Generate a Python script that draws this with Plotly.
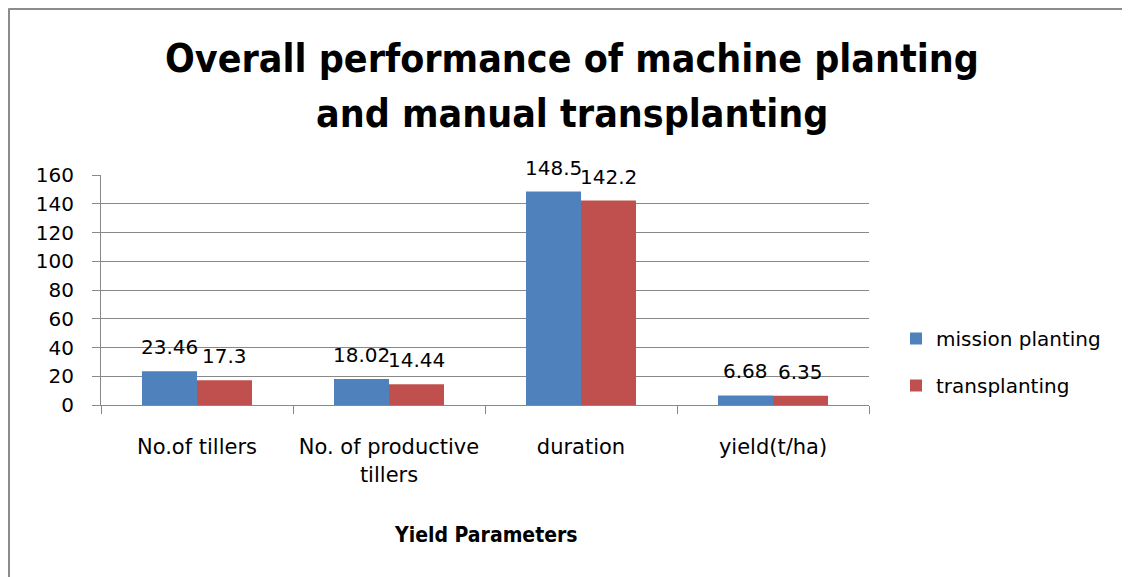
import plotly.graph_objects as go

categories = ["No.of tillers", "No. of productive<br>tillers", "duration", "yield(t/ha)"]
mission_planting = [23.46, 18.02, 148.5, 6.68]
transplanting = [17.3, 14.44, 142.2, 6.35]
mission_labels = ["23.46", "18.02", "148.5", "6.68"]
trans_labels = ["17.3", "14.44", "142.2", "6.35"]
y_ticks = [0, 20, 40, 60, 80, 100, 120, 140, 160]
title_lines = ["Overall performance of machine planting", "and manual transplanting"]

BLUE = "#4F81BD"
RED = "#C0504D"
GRID = "#898989"
TXT = "DejaVu Sans"
TITLEF = "Liberation Sans Narrow, DejaVu Sans Condensed, DejaVu Sans, sans-serif"

OFF = 8  # page body margin in the browser

fig = go.Figure()
fig.add_trace(go.Bar(x=categories, y=mission_planting, name="mission planting",
                     marker=dict(color=BLUE, line=dict(width=0)), legendgroup="a"))
fig.add_trace(go.Bar(x=categories, y=transplanting, name="transplanting",
                     marker=dict(color=RED, line=dict(width=0)), legendgroup="b"))

annotations = []
for c, v, t in zip(categories, mission_planting, mission_labels):
    annotations.append(dict(x=c, y=v, text=t, showarrow=False, xref="x", yref="y",
                            xshift=-27.5, yshift=24, yanchor="middle",
                            font=dict(family=TXT, size=20, color="#000")))
for c, v, t in zip(categories, transplanting, trans_labels):
    annotations.append(dict(x=c, y=v, text=t, showarrow=False, xref="x", yref="y",
                            xshift=27.5, yshift=24, yanchor="middle",
                            font=dict(family=TXT, size=20, color="#000")))

W, H = 1130, 577
L, R, T, B = 101 - OFF, 869 - OFF, 175 - OFF, 405 - OFF
pw, ph = R - L, B - T

def px(x):
    return (x - OFF - L) / pw

def py(y):
    return (B - (y - OFF)) / ph

for line, yc in zip(title_lines, [58, 113]):
    annotations.append(dict(text="<b>" + line + "</b>",
                            x=px(572), y=py(yc), xref="paper", yref="paper", showarrow=False,
                            xanchor="center", yanchor="middle",
                            font=dict(family=TITLEF, size=39, color="#000")))
annotations.append(dict(text="<b>Yield Parameters</b>", x=px(486), y=py(535), xref="paper", yref="paper",
                        showarrow=False, xanchor="center", yanchor="middle",
                        font=dict(family=TITLEF, size=21, color="#000")))

shapes = [
    dict(type="line", xref="paper", yref="paper", x0=px(8.5), x1=px(1140), y0=py(8.5), y1=py(8.5),
         line=dict(color="#8c8c8c", width=3)),
    dict(type="line", xref="paper", yref="paper", x0=px(8.5), x1=px(8.5), y0=py(8.5), y1=py(600),
         line=dict(color="#8c8c8c", width=3)),
]

fig.update_layout(
    width=W, height=H,
    margin=dict(l=L, r=W - R, t=T, b=H - B, pad=0),
    paper_bgcolor="white", plot_bgcolor="white",
    barmode="group", bargap=0.427, bargroupgap=0,
    font=dict(family=TXT, size=20, color="#000"),
    showlegend=True,
    legend=dict(x=px(896), y=py(319), xanchor="left", yanchor="top",
                font=dict(family=TXT, size=20, color="#000"),
                tracegroupgap=18, traceorder="grouped", bgcolor="rgba(0,0,0,0)"),
    annotations=annotations,
    shapes=shapes,
    xaxis=dict(type="category", showgrid=False, showline=True, linecolor=GRID, linewidth=1,
               ticks="outside", tickson="boundaries", ticklen=8, tickcolor=GRID,
               ticklabelstandoff=23,
               tickfont=dict(family=TXT, size=21, color="#000")),
    yaxis=dict(range=[0, 160], tickvals=y_ticks, showgrid=True, gridcolor=GRID, gridwidth=1,
               showline=True, linecolor=GRID, linewidth=1, ticks="outside", ticklen=8,
               tickcolor=GRID, zeroline=False, ticklabelstandoff=14,
               tickfont=dict(family=TXT, size=20, color="#000")),
)

fig.write_html("out.html")
